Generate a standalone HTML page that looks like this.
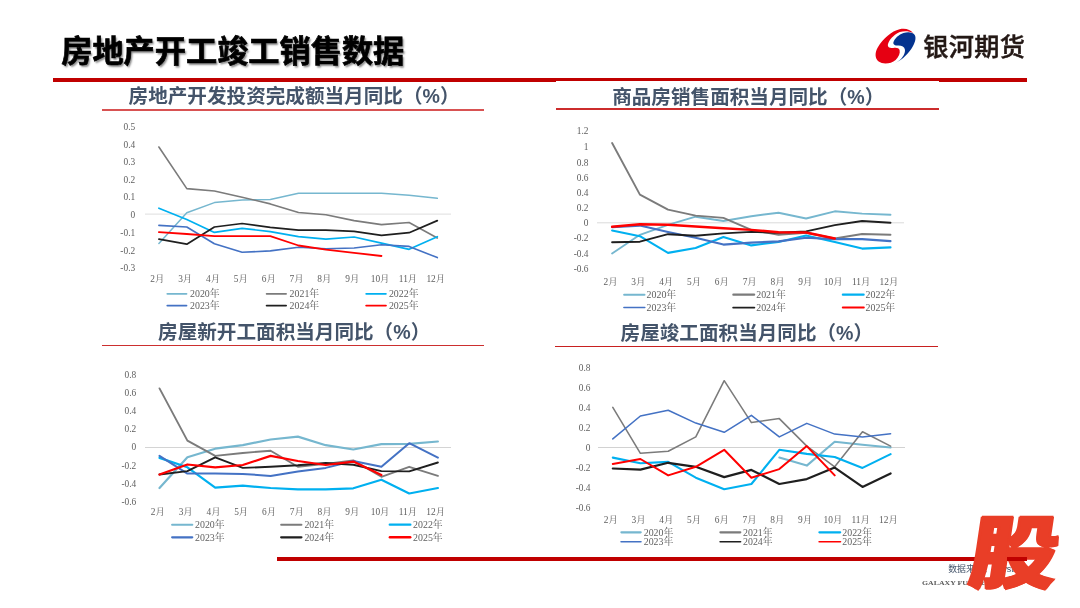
<!DOCTYPE html>
<html lang="zh-CN">
<head>
<meta charset="utf-8">
<title>房地产开工竣工销售数据</title>
<style>
html,body{margin:0;padding:0;background:#fff;}
body{width:1080px;height:608px;position:relative;overflow:hidden;font-family:"Liberation Sans","Noto Sans CJK SC",sans-serif;}
.abs{position:absolute;white-space:nowrap;line-height:1;}
.title{left:61.2px;top:36.2px;font-size:31.2px;font-weight:700;-webkit-text-stroke:.7px #000;color:#000;letter-spacing:0;text-shadow:1.5px 1.5px 2px rgba(0,0,0,.45);}
.rl{position:absolute;background:#C00000;}
.ct{font-size:19.6px;font-weight:700;color:#44546A;}
.cl{position:absolute;height:1.6px;background:#D0393B;}
.brand{left:923.3px;top:35.3px;font-size:25.2px;font-weight:500;letter-spacing:.3px;-webkit-text-stroke:.45px #231815;color:#231815;}
svg.charts{position:absolute;left:0;top:0;}
svg .ax text{font-family:"Liberation Serif","Noto Serif CJK SC",serif;font-size:9.4px;fill:#606060;}
svg .lg text{font-size:9.9px;}
.src{left:948.2px;top:565px;font-size:8.9px;color:#44546A;}
.gf{left:922.2px;top:579.8px;font-size:6px;font-weight:700;color:#5a5a5a;font-family:"Liberation Serif",serif;transform-origin:0 50%;transform:scaleX(1.3);letter-spacing:0;}
.pn{left:1007px;top:573.7px;font-size:13.3px;color:#111;}
.gu{left:966.3px;top:510.3px;font-size:77.8px;-webkit-text-stroke:1.8px #E93E27;font-weight:900;color:#E93E27;font-family:"Noto Sans CJK SC","Liberation Sans",sans-serif;transform-origin:0 100%;transform:skewX(-8.5deg) scale(1.125,1.022);text-shadow:1.6px 0 0 #E93E27,-1.6px 0 0 #E93E27;}
</style>
</head>
<body>
<div class="abs title">房地产开工竣工销售数据</div>
<div class="rl" style="left:53px;top:78px;width:974px;height:4px;"></div>
<div style="position:absolute;left:556px;top:81px;width:383px;height:1.2px;background:#fff;"></div>
<svg class="abs" style="left:868px;top:22px;" width="60" height="48" viewBox="0 0 760 608">
<path fill="#E60012" d="M572,142 C540,95 470,75 400,92 C300,115 190,210 125,320 C85,390 85,460 135,500 C190,540 290,530 350,480 C390,445 410,395 400,355 C392,328 360,322 320,328 C288,334 258,330 252,302 C248,265 285,205 342,160 C405,112 500,103 572,142 Z"/>
<path fill="#04338F" d="M318,527 C400,505 490,430 550,340 C595,270 615,205 592,165 C570,128 510,120 450,138 C390,157 335,210 322,255 C315,285 340,296 385,298 C430,300 462,315 468,350 C474,395 440,450 395,488 C370,508 345,520 318,527 Z"/>
</svg>
<div class="abs brand">银河期货</div>

<div class="abs ct" style="left:128.6px;top:87px;">房地产开发投资完成额当月同比（%）</div>
<div class="cl" style="left:102px;top:109px;width:382px;height:2px;background:#D85252;"></div>
<div class="abs ct" style="left:612.2px;top:87.8px;">商品房销售面积当月同比（%）</div>
<div class="cl" style="left:556px;top:108.4px;width:383px;background:#CC2C2C;"></div>
<div class="abs ct" style="left:158.1px;top:322.6px;">房屋新开工面积当月同比（%）</div>
<div class="cl" style="left:102px;top:344.8px;width:382px;height:1.4px;background:#CC2F2F;"></div>
<div class="abs ct" style="left:620.6px;top:323.8px;">房屋竣工面积当月同比（%）</div>
<div class="cl" style="left:555px;top:345.5px;width:383px;height:1.5px;background:#C82020;"></div>
<svg class="charts" width="1080" height="608" viewBox="0 0 1080 608">
<g>
<line x1="145.0" y1="214.1" x2="451.0" y2="214.1" stroke="#DEDEDE" stroke-width="1"/>
<polyline points="158.9,243.4 186.8,212.8 214.4,202.6 242.1,199.9 270.3,199.4 298.5,193.2 325.9,193.2 354.1,193.2 381.5,193.2 409.1,195.3 437.3,198.3" fill="none" stroke="#76B7CF" stroke-width="1.50" stroke-linejoin="round" stroke-linecap="round"/>
<polyline points="158.9,147.0 186.8,188.6 214.4,191.0 242.1,197.2 270.3,203.9 298.5,212.5 325.9,214.7 354.1,220.6 381.5,224.6 409.1,222.5 437.3,238.0" fill="none" stroke="#7B7B7B" stroke-width="1.60" stroke-linejoin="round" stroke-linecap="round"/>
<polyline points="158.9,208.2 186.8,219.5 214.4,232.4 242.1,228.4 270.3,231.6 298.5,236.7 325.9,239.1 354.1,237.0 381.5,243.1 409.1,249.3 437.3,236.7" fill="none" stroke="#00B0F0" stroke-width="1.70" stroke-linejoin="round" stroke-linecap="round"/>
<polyline points="158.9,225.4 186.8,227.0 214.4,243.7 242.1,252.3 270.3,250.9 298.5,247.2 325.9,248.8 354.1,248.0 381.5,244.7 409.1,246.4 437.3,257.6" fill="none" stroke="#4472C4" stroke-width="1.60" stroke-linejoin="round" stroke-linecap="round"/>
<polyline points="158.9,239.1 186.8,244.2 214.4,227.0 242.1,223.5 270.3,227.3 298.5,230.2 325.9,230.2 354.1,231.3 381.5,235.3 409.1,232.7 437.3,220.6" fill="none" stroke="#1F1F1F" stroke-width="1.70" stroke-linejoin="round" stroke-linecap="round"/>
<polyline points="158.9,232.1 186.8,234.0 214.4,236.1 242.1,236.1 270.3,236.1 298.5,245.5 325.9,249.6 354.1,252.8 381.5,256.0" fill="none" stroke="#FF0000" stroke-width="1.80" stroke-linejoin="round" stroke-linecap="round"/>
<g class="ax" text-anchor="end">
<text x="135.2" y="129.5">0.5</text>
<text x="135.2" y="147.6">0.4</text>
<text x="135.2" y="165.3">0.3</text>
<text x="135.2" y="182.9">0.2</text>
<text x="135.2" y="200.3">0.1</text>
<text x="135.2" y="218.1">0</text>
<text x="135.2" y="235.9">-0.1</text>
<text x="135.2" y="253.5">-0.2</text>
<text x="135.2" y="271.1">-0.3</text>
</g>
<g class="ax" text-anchor="middle">
<text x="157.4" y="282.4">2月</text>
<text x="185.2" y="282.4">3月</text>
<text x="213.1" y="282.4">4月</text>
<text x="240.9" y="282.4">5月</text>
<text x="268.8" y="282.4">6月</text>
<text x="296.6" y="282.4">7月</text>
<text x="324.4" y="282.4">8月</text>
<text x="352.3" y="282.4">9月</text>
<text x="380.1" y="282.4">10月</text>
<text x="408.0" y="282.4">11月</text>
<text x="435.8" y="282.4">12月</text>
</g>
<g class="ax lg">
<line x1="167.3" y1="293.8" x2="186.5" y2="293.8" stroke="#76B7CF" stroke-width="1.80" stroke-linecap="round"/>
<text x="190.0" y="297.1">2020年</text>
<line x1="266.6" y1="293.8" x2="286.1" y2="293.8" stroke="#7B7B7B" stroke-width="1.70" stroke-linecap="round"/>
<text x="289.6" y="297.1">2021年</text>
<line x1="366.2" y1="293.8" x2="385.9" y2="293.8" stroke="#00B0F0" stroke-width="1.80" stroke-linecap="round"/>
<text x="388.9" y="297.1">2022年</text>
<line x1="167.3" y1="305.6" x2="186.5" y2="305.6" stroke="#4472C4" stroke-width="1.80" stroke-linecap="round"/>
<text x="190.0" y="308.9">2023年</text>
<line x1="266.6" y1="305.6" x2="286.1" y2="305.6" stroke="#1F1F1F" stroke-width="1.80" stroke-linecap="round"/>
<text x="289.6" y="308.9">2024年</text>
<line x1="366.2" y1="305.6" x2="385.9" y2="305.6" stroke="#FF0000" stroke-width="1.90" stroke-linecap="round"/>
<text x="388.9" y="308.9">2025年</text>
</g>
</g>
<g>
<line x1="597.0" y1="222.8" x2="904.0" y2="222.8" stroke="#DADADA" stroke-width="1"/>
<polyline points="612.1,253.5 639.9,234.8 668.0,224.8 695.6,216.7 723.4,221.0 751.3,216.2 778.5,212.7 806.1,218.5 834.8,211.3 862.1,213.6 890.5,214.7" fill="none" stroke="#76B7CF" stroke-width="1.90" stroke-linejoin="round" stroke-linecap="round"/>
<polyline points="612.1,143.0 639.9,194.6 668.0,209.6 695.6,215.6 723.4,217.9 751.3,229.9 778.5,234.8 806.1,232.8 834.8,238.5 862.1,234.0 890.5,234.8" fill="none" stroke="#7B7B7B" stroke-width="1.90" stroke-linejoin="round" stroke-linecap="round"/>
<polyline points="612.1,230.5 639.9,236.2 668.0,252.9 695.6,248.0 723.4,237.1 751.3,245.4 778.5,242.0 806.1,235.4 834.8,242.0 862.1,248.6 890.5,247.4" fill="none" stroke="#00B0F0" stroke-width="2.10" stroke-linejoin="round" stroke-linecap="round"/>
<polyline points="612.1,227.1 639.9,225.6 668.0,231.9 695.6,237.7 723.4,244.6 751.3,242.6 778.5,241.4 806.1,237.7 834.8,239.1 862.1,239.1 890.5,241.1" fill="none" stroke="#4472C4" stroke-width="2.10" stroke-linejoin="round" stroke-linecap="round"/>
<polyline points="612.1,242.3 639.9,241.7 668.0,234.2 695.6,235.7 723.4,233.4 751.3,231.9 778.5,232.8 806.1,231.4 834.8,225.1 862.1,221.0 890.5,222.8" fill="none" stroke="#1F1F1F" stroke-width="1.90" stroke-linejoin="round" stroke-linecap="round"/>
<polyline points="612.1,226.8 639.9,224.2 668.0,224.8 695.6,226.5 723.4,228.2 751.3,229.9 778.5,232.2 806.1,232.5 834.8,238.5" fill="none" stroke="#FF0000" stroke-width="2.40" stroke-linejoin="round" stroke-linecap="round"/>
<g class="ax" text-anchor="end">
<text x="588.5" y="134.1">1.2</text>
<text x="588.5" y="150.2">1</text>
<text x="588.5" y="165.6">0.8</text>
<text x="588.5" y="181.0">0.6</text>
<text x="588.5" y="196.1">0.4</text>
<text x="588.5" y="211.1">0.2</text>
<text x="588.5" y="226.2">0</text>
<text x="588.5" y="241.3">-0.2</text>
<text x="588.5" y="256.7">-0.4</text>
<text x="588.5" y="271.8">-0.6</text>
</g>
<g class="ax" text-anchor="middle">
<text x="610.5" y="284.7">2月</text>
<text x="638.3" y="284.7">3月</text>
<text x="666.2" y="284.7">4月</text>
<text x="694.0" y="284.7">5月</text>
<text x="721.9" y="284.7">6月</text>
<text x="749.7" y="284.7">7月</text>
<text x="777.5" y="284.7">8月</text>
<text x="805.4" y="284.7">9月</text>
<text x="833.2" y="284.7">10月</text>
<text x="861.1" y="284.7">11月</text>
<text x="888.9" y="284.7">12月</text>
</g>
<g class="ax lg">
<line x1="624.1" y1="294.7" x2="644.5" y2="294.7" stroke="#76B7CF" stroke-width="2.00" stroke-linecap="round"/>
<text x="646.6" y="298.0">2020年</text>
<line x1="733.4" y1="294.7" x2="754.1" y2="294.7" stroke="#7B7B7B" stroke-width="2.30" stroke-linecap="round"/>
<text x="756.2" y="298.0">2021年</text>
<line x1="842.9" y1="294.7" x2="863.6" y2="294.7" stroke="#00B0F0" stroke-width="2.30" stroke-linecap="round"/>
<text x="865.6" y="298.0">2022年</text>
<line x1="623.9" y1="307.6" x2="644.8" y2="307.6" stroke="#4472C4" stroke-width="1.50" stroke-linecap="round"/>
<text x="646.6" y="310.9">2023年</text>
<line x1="733.1" y1="307.6" x2="754.4" y2="307.6" stroke="#1F1F1F" stroke-width="1.70" stroke-linecap="round"/>
<text x="756.2" y="310.9">2024年</text>
<line x1="842.8" y1="307.6" x2="863.8" y2="307.6" stroke="#FF0000" stroke-width="2.00" stroke-linecap="round"/>
<text x="865.6" y="310.9">2025年</text>
</g>
</g>
<g>
<line x1="145.0" y1="447.5" x2="451.0" y2="447.5" stroke="#D4D4D4" stroke-width="1"/>
<polyline points="159.5,488.0 187.4,457.3 215.2,448.7 242.8,445.2 270.6,439.5 297.9,436.6 325.7,445.2 353.3,449.5 381.4,444.1 409.2,443.8 437.9,441.5" fill="none" stroke="#76B7CF" stroke-width="2.20" stroke-linejoin="round" stroke-linecap="round"/>
<polyline points="159.5,388.4 187.4,440.6 215.2,455.9 242.8,453.0 270.6,450.7 297.9,466.8 325.7,463.9 353.3,460.4 381.4,476.8 409.2,466.8 437.9,475.9" fill="none" stroke="#7B7B7B" stroke-width="1.90" stroke-linejoin="round" stroke-linecap="round"/>
<polyline points="159.5,457.9 187.4,467.3 215.2,487.7 242.8,485.7 270.6,488.0 297.9,489.4 325.7,489.4 353.3,488.3 381.4,479.7 409.2,493.5 437.9,488.0" fill="none" stroke="#00B0F0" stroke-width="2.20" stroke-linejoin="round" stroke-linecap="round"/>
<polyline points="159.5,455.9 187.4,473.6 215.2,473.4 242.8,473.9 270.6,475.9 297.9,471.6 325.7,467.9 353.3,461.0 381.4,466.8 409.2,443.2 437.9,457.6" fill="none" stroke="#4472C4" stroke-width="2.00" stroke-linejoin="round" stroke-linecap="round"/>
<polyline points="159.5,474.5 187.4,471.1 215.2,457.3 242.8,467.9 270.6,466.8 297.9,465.3 325.7,463.0 353.3,464.8 381.4,471.1 409.2,471.4 437.9,462.5" fill="none" stroke="#1F1F1F" stroke-width="1.90" stroke-linejoin="round" stroke-linecap="round"/>
<polyline points="159.5,474.5 187.4,464.5 215.2,467.3 242.8,465.0 270.6,455.9 297.9,461.0 325.7,465.0 353.3,461.6 381.4,475.1" fill="none" stroke="#FF0000" stroke-width="2.25" stroke-linejoin="round" stroke-linecap="round"/>
<g class="ax" text-anchor="end">
<text x="136.3" y="377.6">0.8</text>
<text x="136.3" y="396.0">0.6</text>
<text x="136.3" y="413.9">0.4</text>
<text x="136.3" y="432.3">0.2</text>
<text x="136.3" y="450.2">0</text>
<text x="136.3" y="468.7">-0.2</text>
<text x="136.3" y="486.5">-0.4</text>
<text x="136.3" y="505.2">-0.6</text>
</g>
<g class="ax" text-anchor="middle">
<text x="157.9" y="515.3">2月</text>
<text x="185.7" y="515.3">3月</text>
<text x="213.5" y="515.3">4月</text>
<text x="241.2" y="515.3">5月</text>
<text x="269.0" y="515.3">6月</text>
<text x="296.8" y="515.3">7月</text>
<text x="324.6" y="515.3">8月</text>
<text x="352.4" y="515.3">9月</text>
<text x="380.1" y="515.3">10月</text>
<text x="407.9" y="515.3">11月</text>
<text x="435.7" y="515.3">12月</text>
</g>
<g class="ax lg">
<line x1="172.1" y1="524.7" x2="192.3" y2="524.7" stroke="#76B7CF" stroke-width="2.10" stroke-linecap="round"/>
<text x="195.0" y="528.0">2020年</text>
<line x1="281.2" y1="524.7" x2="301.4" y2="524.7" stroke="#7B7B7B" stroke-width="2.10" stroke-linecap="round"/>
<text x="304.4" y="528.0">2021年</text>
<line x1="389.7" y1="524.7" x2="410.4" y2="524.7" stroke="#00B0F0" stroke-width="2.20" stroke-linecap="round"/>
<text x="413.1" y="528.0">2022年</text>
<line x1="172.2" y1="537.3" x2="192.2" y2="537.3" stroke="#4472C4" stroke-width="2.30" stroke-linecap="round"/>
<text x="195.0" y="540.6">2023年</text>
<line x1="281.2" y1="537.3" x2="301.4" y2="537.3" stroke="#1F1F1F" stroke-width="2.30" stroke-linecap="round"/>
<text x="304.4" y="540.6">2024年</text>
<line x1="389.9" y1="537.3" x2="410.2" y2="537.3" stroke="#FF0000" stroke-width="2.50" stroke-linecap="round"/>
<text x="413.1" y="540.6">2025年</text>
</g>
</g>
<g>
<line x1="598.0" y1="447.5" x2="905.0" y2="447.5" stroke="#D2D2D2" stroke-width="1"/>
<polyline points="779.3,457.6 806.8,465.6 834.7,441.8 862.5,444.7 890.6,447.5" fill="none" stroke="#76B7CF" stroke-width="2.10" stroke-linejoin="round" stroke-linecap="round"/>
<polyline points="612.8,407.4 640.4,453.3 668.2,451.3 695.8,436.9 724.2,380.7 751.4,422.6 779.3,418.6 806.8,446.1 834.7,466.8 862.5,431.8 890.6,446.1" fill="none" stroke="#7B7B7B" stroke-width="1.55" stroke-linejoin="round" stroke-linecap="round"/>
<polyline points="612.8,457.6 640.4,463.3 668.2,461.9 695.8,477.7 724.2,489.2 751.4,484.0 779.3,449.8 806.8,453.9 834.7,457.0 862.5,467.9 890.6,454.1" fill="none" stroke="#00B0F0" stroke-width="2.10" stroke-linejoin="round" stroke-linecap="round"/>
<polyline points="612.8,438.9 640.4,416.0 668.2,410.2 695.8,423.1 724.2,432.3 751.4,415.4 779.3,436.9 806.8,423.4 834.7,434.1 862.5,436.9 890.6,433.8" fill="none" stroke="#4472C4" stroke-width="1.55" stroke-linejoin="round" stroke-linecap="round"/>
<polyline points="612.8,468.5 640.4,469.6 668.2,462.8 695.8,466.8 724.2,477.1 751.4,469.9 779.3,484.0 806.8,479.1 834.7,467.6 862.5,486.9 890.6,473.4" fill="none" stroke="#1F1F1F" stroke-width="2.20" stroke-linejoin="round" stroke-linecap="round"/>
<polyline points="612.8,463.9 640.4,459.0 668.2,475.4 695.8,466.8 724.2,449.8 751.4,477.7 779.3,469.1 806.8,446.1 834.7,475.4" fill="none" stroke="#FF0000" stroke-width="2.00" stroke-linejoin="round" stroke-linecap="round"/>
<g class="ax" text-anchor="end">
<text x="590.5" y="370.8">0.8</text>
<text x="590.5" y="390.9">0.6</text>
<text x="590.5" y="410.8">0.4</text>
<text x="590.5" y="430.6">0.2</text>
<text x="590.5" y="450.7">0</text>
<text x="590.5" y="470.8">-0.2</text>
<text x="590.5" y="490.6">-0.4</text>
<text x="590.5" y="510.8">-0.6</text>
</g>
<g class="ax" text-anchor="middle">
<text x="610.9" y="522.6">2月</text>
<text x="638.6" y="522.6">3月</text>
<text x="666.4" y="522.6">4月</text>
<text x="694.1" y="522.6">5月</text>
<text x="721.9" y="522.6">6月</text>
<text x="749.6" y="522.6">7月</text>
<text x="777.4" y="522.6">8月</text>
<text x="805.1" y="522.6">9月</text>
<text x="832.9" y="522.6">10月</text>
<text x="860.6" y="522.6">11月</text>
<text x="888.4" y="522.6">12月</text>
</g>
<g class="ax lg">
<line x1="621.4" y1="532.3" x2="640.7" y2="532.3" stroke="#76B7CF" stroke-width="2.20" stroke-linecap="round"/>
<text x="643.7" y="535.6">2020年</text>
<line x1="720.4" y1="532.3" x2="740.3" y2="532.3" stroke="#7B7B7B" stroke-width="2.20" stroke-linecap="round"/>
<text x="743.0" y="535.6">2021年</text>
<line x1="819.4" y1="532.3" x2="840.2" y2="532.3" stroke="#00B0F0" stroke-width="2.20" stroke-linecap="round"/>
<text x="842.3" y="535.6">2022年</text>
<line x1="621.0" y1="541.7" x2="641.0" y2="541.7" stroke="#4472C4" stroke-width="1.50" stroke-linecap="round"/>
<text x="643.7" y="545.0">2023年</text>
<line x1="720.1" y1="541.7" x2="740.6" y2="541.7" stroke="#1F1F1F" stroke-width="1.60" stroke-linecap="round"/>
<text x="743.0" y="545.0">2024年</text>
<line x1="819.1" y1="541.7" x2="840.5" y2="541.7" stroke="#FF0000" stroke-width="1.60" stroke-linecap="round"/>
<text x="842.3" y="545.0">2025年</text>
</g>
</g>
</svg>
<div class="rl" style="left:276.8px;top:557.3px;width:749.9px;height:4.2px;"></div>
<div class="abs src">数据来源： Mysteel</div>
<div class="abs gf">GALAXY FUTURES</div>
<div class="abs pn">15</div>
<div class="abs gu">股</div>
<div class="rl" style="left:1007.4px;top:557.3px;width:19.3px;height:4.2px;"></div>
</body>
</html>
